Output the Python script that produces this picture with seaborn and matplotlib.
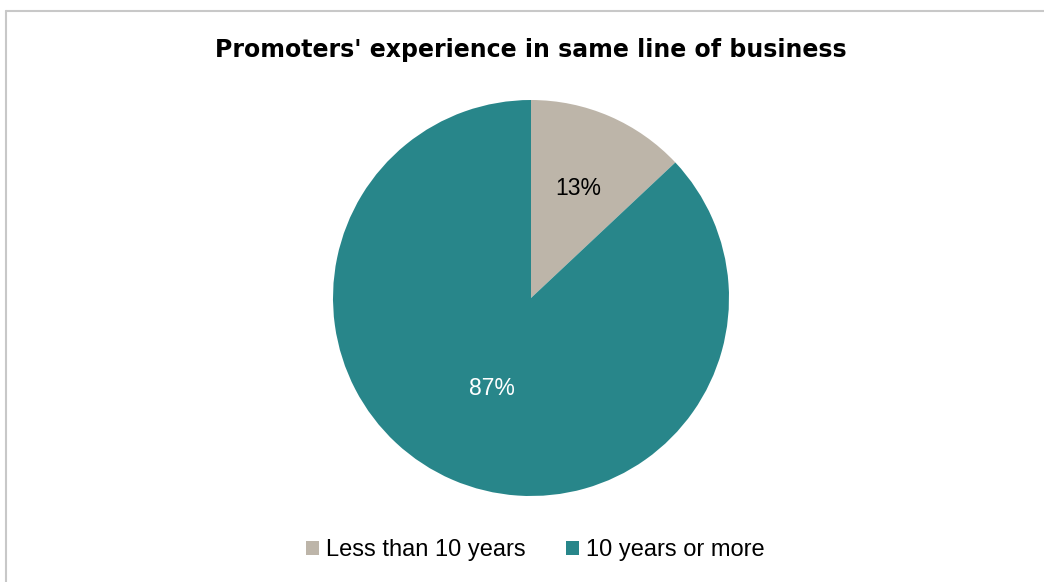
import matplotlib
matplotlib.use("Agg")
import matplotlib.pyplot as plt
from matplotlib.lines import Line2D
from matplotlib.patches import Patch
import seaborn as sns

categories = ["Less than 10 years", "10 years or more"]
shares = [13, 87]
colors = ["#BDB5A9", "#28868A"]
label_colors = ["#000000", "#FFFFFF"]
title = "Promoters' experience in same line of business"

sns.set_theme(style="white")
plt.rcParams["font.family"] = ["Liberation Sans", "DejaVu Sans"]
plt.rcParams["text.color"] = "black"

W, H = 1044, 582
fig = plt.figure(figsize=(W / 100, H / 100), dpi=100)

# pie axes: centre (531, 298) px, radius 198 px
cx, cy, r = 531, 298, 198
ax = fig.add_axes([(cx - r) / W, (H - cy - r) / H, 2 * r / W, 2 * r / H])
wedges, texts, autotexts = ax.pie(
    shares, colors=colors, startangle=90, counterclock=False,
    autopct="%1.0f%%", pctdistance=0.6, radius=1,
    wedgeprops=dict(linewidth=0),
    textprops=dict(fontsize=16.5),
)
for t, c in zip(autotexts, label_colors):
    t.set_color(c)
# the larger slice label sits a little closer to the centre
x, y = autotexts[1].get_position()
autotexts[1].set_position((x * 0.5 / 0.6, y * 0.5 / 0.6))
ax.set_xlim(-1, 1)
ax.set_ylim(-1, 1)
ax.axis("off")

fig.text(cx / W, 1 - 50 / H, title, ha="center", va="center",
         fontsize=17, fontweight="bold", family="DejaVu Sans", color="black")

# chart area frame (top and left edges)
frame = dict(color="#C8C8C8", linewidth=1.5, transform=fig.transFigure)
fig.add_artist(Line2D([6 / W, 1], [1 - 10.5 / H] * 2, **frame))
fig.add_artist(Line2D([6 / W] * 2, [0, 1 - 10.5 / H], **frame))

handles = [Patch(facecolor=c, edgecolor="none") for c in colors]
leg = fig.legend(handles, categories, loc="center",
                 bbox_to_anchor=(535 / W, 1 - 550 / H),
                 ncol=2, frameon=False, handlelength=0.55, handleheight=0.55,
                 handletextpad=0.3, columnspacing=1.7,
                 prop=dict(size=17))
for t in leg.get_texts():
    t.set_color("black")

fig.savefig("out.png", dpi=100, facecolor="white")
